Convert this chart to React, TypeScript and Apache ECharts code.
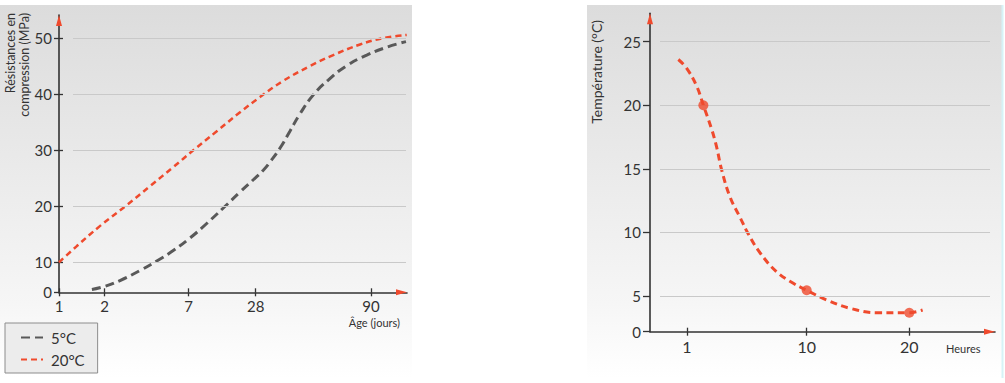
import React, { useEffect, useRef } from 'react';
import * as echarts from 'echarts';

// ---------- Left chart: compressive strength vs age ----------
const ageTicks = [1, 2, 7, 28, 90];
const strengthTicks = [0, 10, 20, 30, 40, 50];
const seriesNames = ['5°C', '20°C'];

const age5C = [1.72, 2.02, 2.91, 4.1, 5.1, 6.08, 7.41, 12.64, 17.85, 23.08, 28.54, 32.2, 35.7, 41.1, 46.4, 51.8, 59, 67, 76.9, 87.7, 98.4, 108.8];
const strength5C = [0.93, 2.0, 3.93, 7.27, 10.23, 12.1, 14.34, 16.93, 19.7, 22.55, 25.3, 26.5, 27.9, 30.4, 33.4, 36.5, 39.9, 42.55, 45.1, 47.0, 48.4, 49.4];

const age20C = [1, 1.39, 1.9, 3.31, 4.7, 6.08, 8.44, 15.8, 23.1, 30.3, 42.8, 57.2, 69.7, 84.1, 96.6, 109.2];
const strength20C = [10, 12.9, 16.5, 20.2, 23.6, 27.0, 30.0, 33.4, 36.8, 39.5, 42.4, 45.05, 47.0, 48.9, 50.05, 50.6];

// ---------- Right chart: temperature vs hours ----------
const hourTicks = [1, 10, 20];
const tempTicks = [0, 5, 10, 15, 20, 25];
const hours = [0.35, 0.98, 1.73, 2.23, 2.86, 3.23, 3.61, 4.23, 4.98, 5.6, 6.49, 7.74, 8.99, 10, 11.95, 14.22, 16.82, 20, 21.3];
const temps = [23.6, 22.9, 21.5, 20, 18.1, 16.7, 14.9, 12.8, 11.2, 9.9, 8.4, 6.9, 6.0, 5.45, 4.44, 3.28, 2.66, 2.66, 3.04];
const markedHours = [2.23, 10, 20];
const markedTemps = [20, 5.45, 2.66];

// ---------- irregular axis scales of the original drawing ----------
const AGE_SCALE = [0, 45.7, 129.7, 196.7, 312]; // axis units at ageTicks
const HOUR_SCALE = [37, 156.7, 259.3]; // axis units at hourTicks

function piecewise(domain: number[], range: number[]) {
  return (v: number) => {
    const n = domain.length;
    let i = 0;
    while (i < n - 2 && v > domain[i + 1]) i++;
    const t = (v - domain[i]) / (domain[i + 1] - domain[i]);
    return range[i] + t * (range[i + 1] - range[i]);
  };
}
function compress(first: number, ratio: number) {
  return (v: number) => (v >= first ? v : first - (first - v) * ratio);
}

const ageAxis = piecewise(ageTicks, AGE_SCALE);
const hourAxis = piecewise(hourTicks, HOUR_SCALE);
const strengthAxis = compress(10, 3 / 5.6);
const tempAxis = compress(5, 7.14 / 12.715);

const RED = '#ef4a2d';
const GREY = '#595959';
const DARK = '#333333';
const FONT = 'Lato, "Open Sans", sans-serif';

function labeler(axisVals: number[], labels: number[]) {
  return (v: number) => {
    const i = axisVals.findIndex((t) => Math.abs(t - v) < 1e-3);
    return i >= 0 ? String(labels[i]) : '';
  };
}

export default function App() {
  const ref = useRef<HTMLDivElement>(null);

  useEffect(() => {
    if (!ref.current) return;
    const chart = echarts.init(ref.current, null, { renderer: 'svg' });

    const lxMin = 0, lxMax = 348;
    const lyMin = strengthAxis(0), lyMax = lyMin + 277.3 / 5.6;
    const rxMin = 0, rxMax = 345;
    const ryMin = tempAxis(0), ryMax = ryMin + 318.4 / 12.715;

    const ageTickVals = ageTicks.map(ageAxis);
    const strTickVals = strengthTicks.map(strengthAxis);
    const hourTickVals = hourTicks.map(hourAxis);
    const tempTickVals = tempTicks.map(tempAxis);

    const leftGridLines = strengthTicks.slice(1).map((s) => [
      { coord: [14, strengthAxis(s)] },
      { coord: [347, strengthAxis(s)] },
    ]);
    const rightGridLines = tempTicks.slice(1).map((t) => [
      { coord: [10, tempAxis(t)] },
      { coord: [340, tempAxis(t)] },
    ]);
    const arrow = (from: number[], to: number[]) => [
      { coord: from, symbol: 'none' },
      { coord: to, symbol: 'triangle', symbolSize: [6, 11] },
    ];

    const gridLineStyle = { color: '#c9c9c9', type: 'solid', width: 1 };
    const axisLabelBase = { color: DARK, fontFamily: FONT };
    const panelFill = () =>
      new echarts.graphic.LinearGradient(0, 0, 0, 1, [
        { offset: 0, color: '#dcdcdc' },
        { offset: 0.8, color: '#f6f6f6' },
        { offset: 1, color: '#ffffff' },
      ]);

    const option: any = {
      animation: false,
      backgroundColor: '#ffffff',
      grid: [
        { left: 59, top: 15, width: 348, height: 277.3 },
        { left: 650, top: 13.3, width: 345, height: 318.4 },
      ],
      xAxis: [
        {
          type: 'value', gridIndex: 0, min: lxMin, max: lxMax, position: 'bottom',
          axisLine: { show: true, onZero: false, lineStyle: { color: DARK, width: 1.6 } },
          axisTick: { show: true, customValues: ageTickVals, length: 4, lineStyle: { color: DARK, width: 1.3 } },
          axisLabel: { ...axisLabelBase, customValues: ageTickVals, formatter: labeler(ageTickVals, ageTicks), fontSize: 15, margin: 6 },
          splitLine: { show: false },
        },
        {
          type: 'value', gridIndex: 0, min: lxMin, max: lxMax, position: 'bottom', offset: 0,
          axisLine: { show: false, onZero: false },
          axisTick: { show: true, inside: true, customValues: ageTickVals, length: 4, lineStyle: { color: DARK, width: 1.3 } },
          axisLabel: { show: false },
          splitLine: { show: false },
        },
        {
          type: 'value', gridIndex: 1, min: rxMin, max: rxMax, position: 'bottom',
          axisLine: { show: true, onZero: false, lineStyle: { color: DARK, width: 1.6 } },
          axisTick: { show: true, customValues: hourTickVals, length: 4, lineStyle: { color: DARK, width: 1.3 } },
          axisLabel: { ...axisLabelBase, customValues: hourTickVals, formatter: labeler(hourTickVals, hourTicks), fontSize: 16, margin: 7 },
          splitLine: { show: false },
        },
        {
          type: 'value', gridIndex: 1, min: rxMin, max: rxMax, position: 'bottom', offset: 0,
          axisLine: { show: false, onZero: false },
          axisTick: { show: true, inside: true, customValues: hourTickVals, length: 4, lineStyle: { color: DARK, width: 1.3 } },
          axisLabel: { show: false },
          splitLine: { show: false },
        },
      ],
      yAxis: [
        {
          type: 'value', gridIndex: 0, min: lyMin, max: lyMax, position: 'left',
          axisLine: { show: true, onZero: false, lineStyle: { color: DARK, width: 1.6 } },
          axisTick: { show: true, customValues: strTickVals, length: 5, lineStyle: { color: DARK, width: 1.3 } },
          axisLabel: { ...axisLabelBase, customValues: strTickVals, formatter: labeler(strTickVals, strengthTicks), fontSize: 15, margin: 7 },
          splitLine: { show: false },
        },
        {
          type: 'value', gridIndex: 0, min: lyMin, max: lyMax, position: 'left', offset: 0,
          axisLine: { show: false, onZero: false },
          axisTick: { show: true, inside: true, customValues: strTickVals.slice(1), length: 4, lineStyle: { color: DARK, width: 1.3 } },
          axisLabel: { show: false },
          splitLine: { show: false },
        },
        {
          type: 'value', gridIndex: 1, min: ryMin, max: ryMax, position: 'left',
          axisLine: { show: true, onZero: false, lineStyle: { color: DARK, width: 1.6 } },
          axisTick: { show: true, customValues: tempTickVals, length: 7, lineStyle: { color: DARK, width: 1.3 } },
          axisLabel: { ...axisLabelBase, customValues: tempTickVals, formatter: labeler(tempTickVals, tempTicks), fontSize: 15, margin: 9 },
          splitLine: { show: false },
        },
      ],
      legend: {
        data: seriesNames,
        orient: 'vertical',
        left: 5,
        top: 323,
        padding: [7, 13, 6, 15],
        itemGap: 7,
        itemWidth: 22,
        itemHeight: 14,
        backgroundColor: '#ececec',
        borderColor: '#8c8c8c',
        borderWidth: 1,
        borderRadius: 0,
        itemStyle: { opacity: 0 },
        textStyle: { color: DARK, fontSize: 15, fontFamily: FONT, padding: [0, 0, 0, 3] },
      },
      graphic: [
        {
          type: 'rect', z: -10, silent: true,
          shape: { x: 0, y: 5, width: 412, height: 373 },
          style: { fill: panelFill() },
        },
        {
          type: 'rect', z: -10, silent: true,
          shape: { x: 587, y: 5, width: 415, height: 373 },
          style: { fill: panelFill() },
        },
        {
          type: 'line', z: -9, silent: true,
          shape: { x1: 1002.5, y1: 5, x2: 1002.5, y2: 378 },
          style: { stroke: '#d6f3f7', lineWidth: 2 },
        },
        {
          type: 'text', x: 4, y: 13, rotation: Math.PI / 2,
          style: {
            text: 'Résistances en\ncompression (MPa)', align: 'right', verticalAlign: 'top',
            fontSize: 12.5, lineHeight: 13.5, fill: DARK, fontFamily: FONT,
          },
        },
        {
          type: 'text', x: 400, y: 322,
          style: { text: 'Âge (jours)', align: 'right', verticalAlign: 'middle', fontSize: 11, fill: DARK, fontFamily: FONT },
        },
        {
          type: 'text', x: 589, y: 20, rotation: Math.PI / 2,
          style: {
            text: 'Température (°C)', align: 'right', verticalAlign: 'top',
            fontSize: 14, fill: DARK, fontFamily: FONT,
          },
        },
        {
          type: 'text', x: 946, y: 348,
          style: { text: 'Heures', align: 'left', verticalAlign: 'middle', fontSize: 11, fill: DARK, fontFamily: FONT },
        },
      ],
      series: [
        {
          name: seriesNames[0], type: 'line', xAxisIndex: 0, yAxisIndex: 0,
          smooth: 0.5, symbol: 'none', clip: false,
          lineStyle: { color: GREY, width: 3, type: [9, 5] },
          itemStyle: { color: GREY },
          data: age5C.map((a, i) => [ageAxis(a), strengthAxis(strength5C[i])]),
          markLine: {
            silent: true, symbol: ['none', 'none'], label: { show: false },
            lineStyle: gridLineStyle,
            data: leftGridLines,
          },
          z: 3,
        },
        {
          name: seriesNames[1], type: 'line', xAxisIndex: 0, yAxisIndex: 0,
          smooth: 0.4, symbol: 'none', clip: false,
          lineStyle: { color: RED, width: 2.5, type: [6, 4] },
          itemStyle: { color: RED },
          data: age20C.map((a, i) => [ageAxis(a), strengthAxis(strength20C[i])]),
          z: 4,
        },
        {
          name: 'Température', type: 'line', xAxisIndex: 2, yAxisIndex: 2,
          smooth: 0.4, symbol: 'none', clip: false,
          lineStyle: { color: RED, width: 3, type: [7, 4.5] },
          itemStyle: { color: RED },
          data: hours.map((h, i) => [hourAxis(h), tempAxis(temps[i])]),
          markLine: {
            silent: true, symbol: ['none', 'none'], label: { show: false },
            lineStyle: gridLineStyle,
            data: rightGridLines,
          },
          z: 3,
        },
        {
          name: 'Mesures', type: 'scatter', xAxisIndex: 2, yAxisIndex: 2,
          symbol: 'circle', symbolSize: 10,
          itemStyle: { color: RED },
          data: markedHours.map((h, i) => [hourAxis(h), tempAxis(markedTemps[i])]),
          z: 5,
        },
        {
          name: 'arrowsL', type: 'line', xAxisIndex: 0, yAxisIndex: 0, data: [], symbol: 'none',
          markLine: {
            silent: true, symbol: ['none', 'none'], label: { show: false },
            lineStyle: { color: RED, type: 'solid', width: 1.6 },
            data: [
              arrow([0, lyMax - 9 / 5.6], [0, lyMax - 5.5 / 5.6]),
              arrow([lxMax - 9, lyMin], [lxMax - 5.5, lyMin]),
            ],
          },
          z: 6,
        },
        {
          name: 'arrowsR', type: 'line', xAxisIndex: 2, yAxisIndex: 2, data: [], symbol: 'none',
          markLine: {
            silent: true, symbol: ['none', 'none'], label: { show: false },
            lineStyle: { color: RED, type: 'solid', width: 1.6 },
            data: [
              arrow([0, ryMax - 9 / 12.715], [0, ryMax - 5.5 / 12.715]),
              arrow([rxMax - 9, ryMin], [rxMax - 5.5, ryMin]),
            ],
          },
          z: 6,
        },
      ],
    };

    chart.setOption(option);
    return () => chart.dispose();
  }, []);

  return (
    <div
      ref={ref}
      style={{ position: 'fixed', left: 0, top: 0, width: 1005, height: 383 }}
    />
  );
}
